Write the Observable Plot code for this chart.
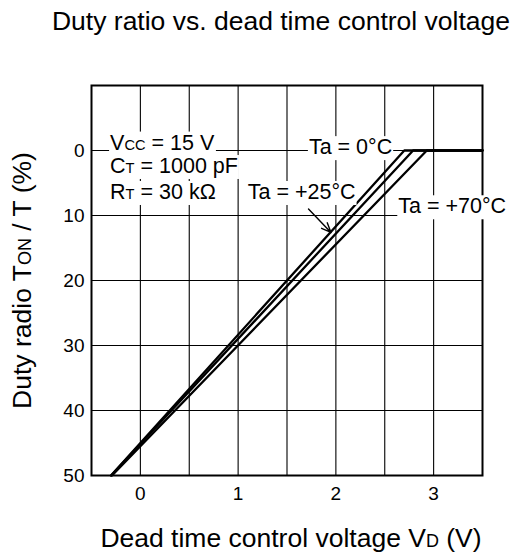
<!DOCTYPE html>
<html><head><meta charset="utf-8">
<script src="https://cdn.jsdelivr.net/npm/d3@7"></script>
<script src="https://cdn.jsdelivr.net/npm/@observablehq/plot@0.6"></script>
<style>
body{margin:0;background:#fff;font-family:"Liberation Sans",Arial,sans-serif;}
#wrap{position:relative;width:522px;height:557px;overflow:hidden;}
#title{position:absolute;top:6px;left:0;width:562px;text-align:center;font-size:26.5px;line-height:30px;color:#000;white-space:nowrap;}
#chart{position:absolute;top:60px;left:0;}
</style></head><body>
<div id="wrap"><div id="title">Duty ratio vs. dead time control voltage</div><div id="chart"></div></div>
<script>
// ---- data ----
const series = ["Ta = 0°C", "Ta = +25°C", "Ta = +70°C"];
const voltage0  = [-0.30, 2.70, 3.50];
const duty0     = [50, 0, 0];
const voltage25 = [-0.30, 2.79, 3.50];
const duty25    = [50, 0, 0];
const voltage70 = [-0.29, 2.93, 3.50];
const duty70    = [50, 0, 0];
const xTicks = [0, 1, 2, 3];
const yTicks = [0, 10, 20, 30, 40, 50];
const xGrid = [0, 0.5, 1, 1.5, 2, 2.5, 3];
const yGrid = [0, 10, 20, 30, 40];
const conditions = ["V{CC} = 15 V", "C{T} = 1000 pF", "R{T} = 30 kΩ"];

// ---- tables built from the arrays ----
const curves = [
  ...voltage0.map((v, i) => ({series: series[0], v, d: duty0[i]})),
  ...voltage25.map((v, i) => ({series: series[1], v, d: duty25[i]})),
  ...voltage70.map((v, i) => ({series: series[2], v, d: duty70[i]}))
];
// annotation anchors (data units)
const seriesLabels = [
  {text: series[0], x: 2.15, y: -0.5},
  {text: series[1], x: 1.65, y: 6.4},
  {text: series[2], x: 3.19, y: 8.6}
];
const condLabels = conditions.map((text, i) => ({text, x: -0.31, y: [-1.2, 2.4, 6.4][i]}));
const arrow25 = [{x1: 1.72, y1: 9.0, x2: 1.95, y2: 12.6}];

const font = '"Liberation Sans", Arial, sans-serif';
const plot = Plot.plot({
  width: 522,
  height: 497,
  marginTop: 25,
  marginBottom: 82,
  marginLeft: 91,
  marginRight: 40,
  style: {fontFamily: font, fontSize: "19px", color: "black", background: "white", overflow: "visible"},
  x: {domain: [-0.5, 3.5], ticks: xTicks, tickFormat: d => String(d), tickSize: 0, tickPadding: 11, label: null},
  y: {domain: [-10, 50], reverse: true, ticks: yTicks, tickFormat: d => String(d), tickSize: 0, tickPadding: 7, label: null},
  marks: [
    Plot.ruleX(xGrid, {stroke: "black", strokeWidth: 1.1}),
    Plot.ruleY(yGrid, {stroke: "black", strokeWidth: 1.1}),
    Plot.frame({stroke: "black", strokeWidth: 2}),
    Plot.line(curves, {x: "v", y: "d", z: "series", stroke: "black", strokeWidth: 2.3}),
    Plot.text(condLabels, {x: "x", y: "y", text: "text", textAnchor: "start", fontSize: 21.5, fill: "black"}),
    Plot.text(seriesLabels, {x: "x", y: "y", text: "text", fontSize: 21.5, fill: "black"}),
    Plot.arrow(arrow25, {x1: "x1", y1: "y1", x2: "x2", y2: "y2", stroke: "black", strokeWidth: 1.4, headLength: 11, headAngle: 45}),
    Plot.text(["Duty radio T{ON} / T (%)"], {frameAnchor: "left", dx: -69, rotate: -90, textAnchor: "middle", lineAnchor: "middle", fontSize: 26.5, fill: "black"}),
    Plot.text(["Dead time control voltage V{D} (V)"], {frameAnchor: "bottom", dx: 4, dy: 63, textAnchor: "middle", lineAnchor: "middle", fontSize: 26.5, fill: "black"})
  ]
});
document.getElementById("chart").appendChild(plot);

const SVGNS = "http://www.w3.org/2000/svg";
// subscripts: text inside {...} drawn smaller
function subscriptify(el) {
  const txt = el.textContent;
  if (!txt.includes("{")) return;
  while (el.firstChild) el.removeChild(el.firstChild);
  for (const part of txt.split(/(\{[^}]*\})/)) {
    if (!part) continue;
    if (part.startsWith("{")) {
      const t = document.createElementNS(SVGNS, "tspan");
      t.setAttribute("style", "font-size:68%");
      t.textContent = part.slice(1, -1);
      el.appendChild(t);
    } else {
      el.appendChild(document.createTextNode(part));
    }
  }
}
const annotationTexts = new Set([...series, ...conditions.map(s => s.replace(/[{}]/g, ""))]);
const allTexts = Array.from(plot.querySelectorAll("text"));
allTexts.forEach(subscriptify);

// white backgrounds behind annotation texts, so grid lines break around them
allTexts.filter(t => annotationTexts.has(t.textContent)).forEach(t => {
  const b = t.getBBox();
  const r = document.createElementNS(SVGNS, "rect");
  r.setAttribute("x", b.x - 1);
  r.setAttribute("y", b.y + 1);
  r.setAttribute("width", b.width + 2);
  r.setAttribute("height", b.height);
  r.setAttribute("fill", "white");
  const tr = t.getAttribute("transform");
  if (tr) r.setAttribute("transform", tr);
  const parent = t.parentNode;
  parent.insertBefore(r, parent.firstChild);
});
</script>
</body></html>
